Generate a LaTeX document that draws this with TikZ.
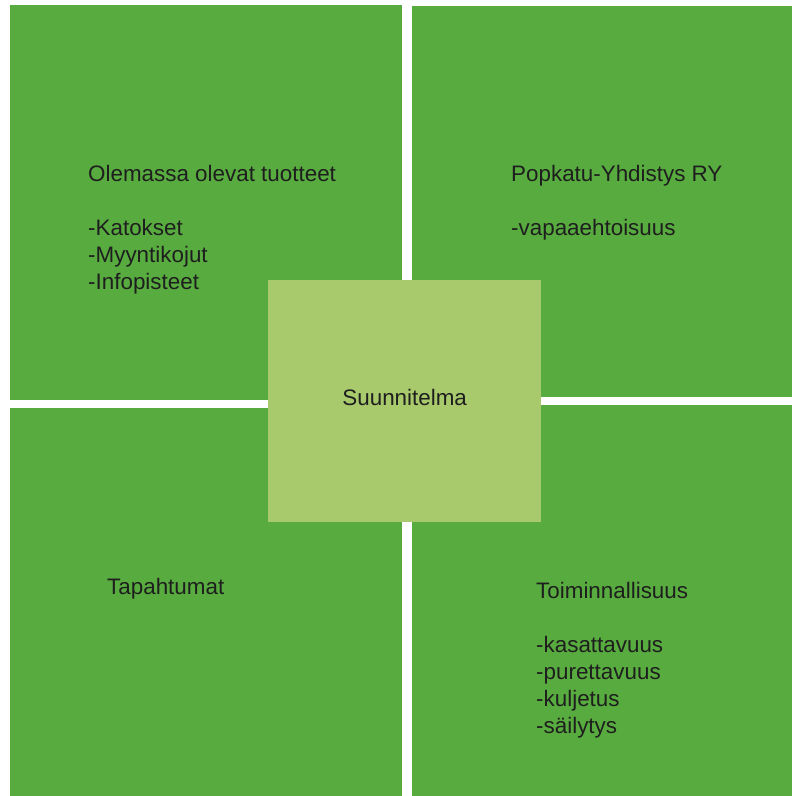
\documentclass[tikz,border=0pt]{standalone}
\usepackage{fontspec}
\setmainfont{Liberation Sans}
\usepackage{xcolor}
\definecolor{leaf}{HTML}{58AC3F}
\definecolor{lime}{HTML}{A8CA6C}
\definecolor{ink}{HTML}{1E1E1E}
\usepackage{tikz}
\usetikzlibrary{positioning}
\tikzset{
    quad/.style={fill=leaf, inner sep=0pt, anchor=north west},
    plan/.style={fill=lime, inner sep=0pt, anchor=north west},
    note/.style={text=ink, inner sep=0pt, align=left, anchor=base west, font=\fontsize{22.4}{27}\selectfont}
}

\begin{document}
\begin{tikzpicture}[x=1pt, y=-1pt]

  % page frame
  \fill[white] (0,0) rectangle (792,796);
  \useasboundingbox (0,0) rectangle (792,796);

  % Four quadrants
  \node[quad, minimum width=392pt, minimum height=395pt] (quad_products) at (10,5) {};
  \node[quad, minimum width=380pt, minimum height=391pt] (quad_assoc) at (412,6) {};
  \node[quad, minimum width=392pt, minimum height=388pt] (quad_events) at (10,408) {};
  \node[quad, minimum width=380pt, minimum height=391pt] (quad_function) at (412,405) {};

  % Centre square
  \node[plan, minimum width=273pt, minimum height=242pt] (plan_box) at (268,280) {};

  % Texts (anchored at the baseline of the last line)
  \node[note] (txt_products) at (88,289) {Olemassa olevat tuotteet\\[27pt]-Katokset\\-Myyntikojut\\-Infopisteet};
  \node[note] (txt_assoc) at (511,235) {Popkatu-Yhdistys RY\\[27pt]-vapaaehtoisuus};
  \node[note] (txt_events) at (107,594) {Tapahtumat};
  \node[note] (txt_function) at (536,733) {Toiminnallisuus\\[27pt]-kasattavuus\\-purettavuus\\-kuljetus\\-säilytys};
  \node[note, anchor=base] (txt_plan) at ([yshift=-4pt]plan_box.center) {Suunnitelma};

\end{tikzpicture}
\end{document}
